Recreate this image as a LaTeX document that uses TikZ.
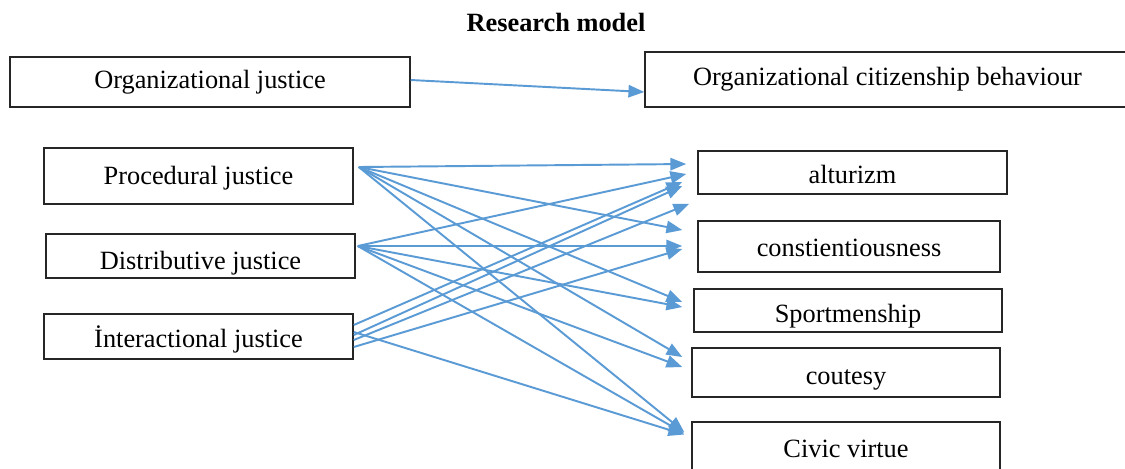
\documentclass[tikz,border=0pt]{standalone}
\usepackage{fontspec}
\setmainfont{Liberation Serif}
\usetikzlibrary{calc,arrows.meta}
\definecolor{arrowblue}{RGB}{91,155,213}
\newcommand{\lowered}[2]{\raisebox{-#1}{#2}}
\begin{document}
\begin{tikzpicture}[x=0.02cm,y=-0.02cm,
  box/.style={draw=black!85,line width=0.9pt,inner sep=0pt,align=center,
    text height=10.5pt,text depth=3.5pt,
    font=\fontsize{15pt}{18pt}\selectfont},
  link/.style={draw=arrowblue,line width=1.1pt,
    -{Triangle[length=9pt,width=7pt]}},
  titletext/.style={font=\fontsize{15pt}{18pt}\selectfont\bfseries}]
\clip (0,0) rectangle (1125,468);
\fill[white] (0,0) rectangle (1125,468);

\node[titletext] (title) at (556,22) {Research model};

\node[box,minimum width=8cm,minimum height=1cm] (OJ) at (210,82) {Organizational justice};
\node[box,minimum width=9.7cm,minimum height=1.1cm] (OCB) at (887.5,79.5) {Organizational citizenship behaviour};

\node[box,minimum width=6.18cm,minimum height=1.12cm] (P) at (198.5,176) {\lowered{0.04cm}{Procedural justice}};
\node[box,minimum width=6.18cm,minimum height=0.88cm] (D) at (200.5,256) {\lowered{0.14cm}{Distributive justice}};
\node[box,minimum width=6.18cm,minimum height=0.9cm] (I) at (198.5,336.5) {\lowered{0.1cm}{İnteractional justice}};

\node[box,minimum width=6.18cm,minimum height=0.86cm] (alt) at (852.5,172.5) {\lowered{0.1cm}{alturizm}};
\node[box,minimum width=6.04cm,minimum height=1.02cm] (con) at (849,246.5) {\lowered{0.07cm}{constientiousness}};
\node[box,minimum width=6.16cm,minimum height=0.86cm] (spo) at (848,310.5) {\lowered{0.12cm}{Sportmenship}};
\node[box,minimum width=6.16cm,minimum height=0.98cm] (cou) at (846,372.5) {\lowered{0.12cm}{coutesy}};
\node[box,minimum width=6.16cm,minimum height=1.06cm] (civ) at (846,448.5) {\lowered{0.06cm}{Civic virtue}};

\coordinate (stray) at ($(alt.south west)+(-8,9)$);

% Organizational justice -> OCB
\draw[link] ($(OJ.east)+(0,-2)$) -- ($(OCB.west)+(0,12.5)$);

% Procedural justice
\draw[link] ($(P.east)+(5,-9)$) -- ($(alt.west)+(-11,-8.5)$);
\draw[link] ($(P.east)+(5,-9)$) -- ($(con.west)+(-15,-16.5)$);
\draw[link] ($(P.east)+(5,-9)$) -- ($(spo.west)+(-11,-8.5)$);
\draw[link] ($(P.east)+(5,-9)$) -- ($(cou.west)+(-9,-15.5)$);
\draw[link] ($(P.east)+(5,-9)$) -- ($(civ.west)+(-7,-16.5)$);

% Distributive justice
\draw[link] ($(D.east)+(2,-10)$) -- ($(alt.west)+(-11,1.5)$);
\draw[link] ($(D.east)+(2,-10)$) -- ($(con.west)+(-15,-0.5)$);
\draw[link] ($(D.east)+(2,-10)$) -- ($(spo.west)+(-11,-3.5)$);
\draw[link] ($(D.east)+(2,-10)$) -- ($(cou.west)+(-9,-5.5)$);
\draw[link] ($(D.east)+(2,-10)$) -- ($(civ.west)+(-7,-15)$);

% Interactional justice
\draw[link] ($(I.east)+(0,-11.5)$) -- ($(alt.west)+(-15,9.5)$);
\draw[link] ($(I.east)+(0,-1.5)$) -- ($(alt.west)+(-15,13.5)$);
\draw[link] ($(I.east)+(0,3.5)$) -- (stray);
\draw[link] ($(I.east)+(0,10.5)$) -- ($(con.west)+(-15,2.5)$);
\draw[link] ($(I.east)+(0,-4.5)$) -- ($(civ.west)+(-7,-14)$);
\end{tikzpicture}
\end{document}
